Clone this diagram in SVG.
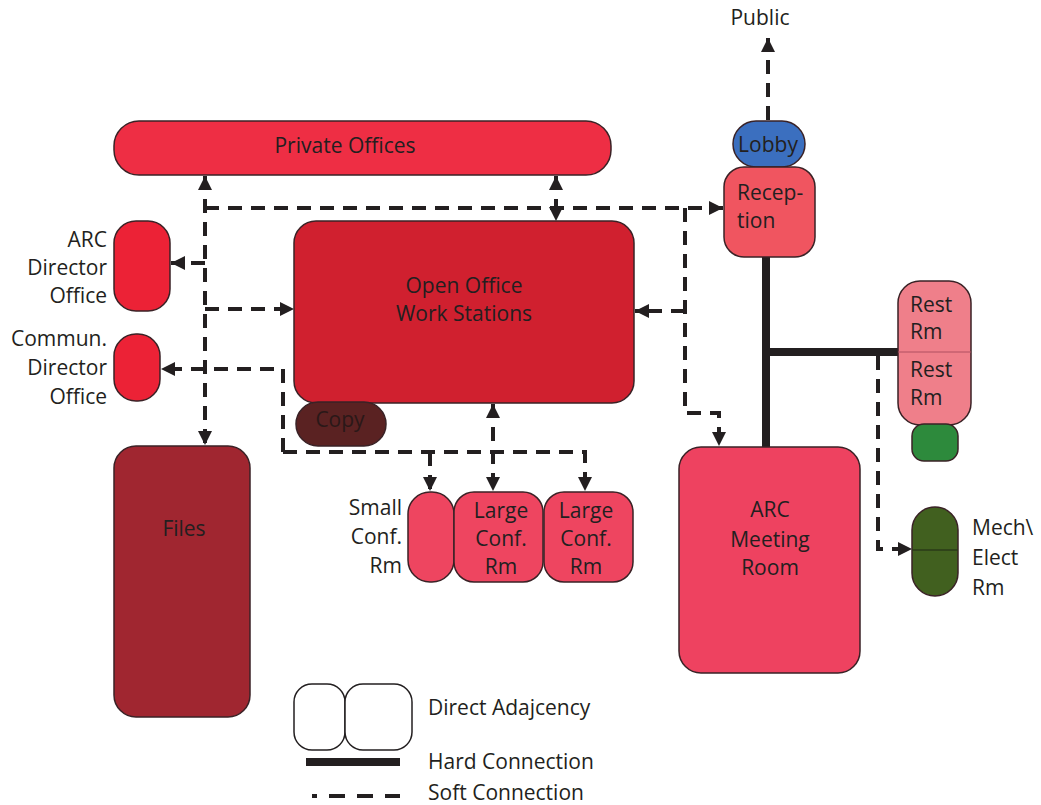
<svg xmlns="http://www.w3.org/2000/svg" width="1041" height="805" viewBox="0 0 1041 805">
<defs>
<style>
.n{stroke:#3a2226;stroke-width:1.5}
.t{font-family:"Open Sans","Liberation Sans",sans-serif;font-size:21px;fill:#231f20}
.c{text-anchor:middle}
.r{text-anchor:end}
.s{fill:none;stroke:#231f20;stroke-width:4;stroke-dasharray:14 9}
.h{fill:none;stroke:#231f20;stroke-width:8}
</style>
<marker id="a" viewBox="0 0 10 10" refX="10" refY="5" markerWidth="14" markerHeight="14" markerUnits="userSpaceOnUse" orient="auto-start-reverse">
<path d="M0,0 L10,5 L0,10 z" fill="#231f20"/>
</marker>
</defs>
<rect width="1041" height="805" fill="#fff"/>
<g id="connectors">
<path class="h" d="M766,257 V447"/>
<path class="h" d="M766,352 H899"/>
<path class="s" d="M768,120 V38" marker-end="url(#a)"/>
<path class="s" d="M205,176 V445" marker-start="url(#a)" marker-end="url(#a)"/>
<path class="s" d="M205,208 H723" marker-end="url(#a)"/>
<path class="s" d="M556,176 V221" marker-start="url(#a)" marker-end="url(#a)"/>
<path class="s" d="M205,263 H171" marker-end="url(#a)"/>
<path class="s" d="M205,309 H294" marker-end="url(#a)"/>
<path class="s" d="M283,452 V369 H161" marker-end="url(#a)"/>
<path class="s" d="M283,452 H585 V491" marker-end="url(#a)"/>
<path class="s" d="M430,452 V491" marker-end="url(#a)"/>
<path class="s" d="M493,404 V491" marker-start="url(#a)" marker-end="url(#a)"/>
<path class="s" d="M685,208 V413 H719 V446" marker-end="url(#a)"/>
<path class="s" d="M685,311 H635" marker-end="url(#a)"/>
<path class="s" d="M878,356 V549 H912" marker-end="url(#a)"/>
</g>
<g id="private-offices">
<rect class="n" x="114" y="121" width="497" height="54" rx="25" fill="#ee2e44"/>
<text class="t c" x="345" y="153">Private Offices</text>
</g>
<g id="open-office">
<rect class="n" x="294" y="221" width="340" height="182" rx="22" fill="#d0202f"/>
<text class="t c" x="464" y="293">Open Office</text>
<text class="t c" x="464" y="321">Work Stations</text>
</g>
<g id="arc-director">
<rect class="n" x="114" y="221" width="56" height="90" rx="22" fill="#ec2236"/>
<text class="t r" x="107" y="247">ARC</text>
<text class="t r" x="107" y="275">Director</text>
<text class="t r" x="107" y="303">Office</text>
</g>
<g id="commun-director">
<rect class="n" x="114" y="334" width="46" height="67" rx="22" fill="#ec2236"/>
<text class="t r" x="107" y="346">Commun.</text>
<text class="t r" x="107" y="375">Director</text>
<text class="t r" x="107" y="404">Office</text>
</g>
<g id="copy">
<rect class="n" x="296" y="402" width="90" height="44" rx="22" fill="#5a2222"/>
<text class="t c" x="340" y="427" style="fill:#2a1818">Copy</text>
</g>
<g id="files">
<rect class="n" x="114" y="446" width="136" height="271" rx="22" fill="#a02630"/>
<text class="t c" x="184" y="536">Files</text>
</g>
<g id="small-conf">
<rect class="n" x="408" y="492" width="46" height="90" rx="22" fill="#ee4560"/>
<text class="t r" x="402" y="515">Small</text>
<text class="t r" x="402" y="544">Conf.</text>
<text class="t r" x="402" y="573">Rm</text>
</g>
<g id="large-conf-1">
<rect class="n" x="454" y="492" width="89" height="90" rx="20" fill="#ee4560"/>
<text class="t c" x="501" y="518">Large</text>
<text class="t c" x="501" y="546">Conf.</text>
<text class="t c" x="501" y="574">Rm</text>
</g>
<g id="large-conf-2">
<rect class="n" x="544" y="492" width="89" height="90" rx="20" fill="#ee4560"/>
<text class="t c" x="586" y="518">Large</text>
<text class="t c" x="586" y="546">Conf.</text>
<text class="t c" x="586" y="574">Rm</text>
</g>
<g id="public">
<text class="t c" x="760" y="25">Public</text>
</g>
<g id="lobby">
<rect class="n" x="733" y="121" width="72" height="46" rx="23" fill="#3b6fbf"/>
<text class="t c" x="768" y="152">Lobby</text>
</g>
<g id="reception">
<rect class="n" x="724" y="167" width="91" height="90" rx="20" fill="#f05560"/>
<text class="t" x="737" y="200">Recep-</text>
<text class="t" x="737" y="228">tion</text>
</g>
<g id="rest-rooms">
<rect class="n" x="898" y="281" width="73" height="144" rx="22" fill="#ef7f8a"/>
<line x1="898" y1="352" x2="971" y2="352" stroke="#b05060" stroke-width="1"/>
<text class="t" x="910" y="312">Rest</text>
<text class="t" x="910" y="339">Rm</text>
<text class="t" x="910" y="377">Rest</text>
<text class="t" x="910" y="405">Rm</text>
</g>
<g id="green-room">
<rect class="n" x="912" y="424" width="46" height="37" rx="12" fill="#2d8a3c"/>
</g>
<g id="mech-elect">
<rect class="n" x="912" y="507" width="46" height="89" rx="23" fill="#41601f"/>
<line x1="912" y1="550" x2="958" y2="550" stroke="#2a3a18" stroke-width="1.5"/>
<text class="t" x="972" y="535">Mech\</text>
<text class="t" x="972" y="565">Elect</text>
<text class="t" x="972" y="595">Rm</text>
</g>
<g id="arc-meeting">
<rect class="n" x="679" y="447" width="181" height="226" rx="22" fill="#ee4260"/>
<text class="t c" x="770" y="517">ARC</text>
<text class="t c" x="770" y="547">Meeting</text>
<text class="t c" x="770" y="575">Room</text>
</g>
<g id="legend">
<rect x="294" y="684" width="51" height="66" rx="18" fill="#fff" stroke="#231f20" stroke-width="1.5"/>
<rect x="345" y="684" width="67" height="66" rx="18" fill="#fff" stroke="#231f20" stroke-width="1.5"/>
<text class="t" x="428" y="715">Direct Adajcency</text>
<line x1="306" y1="762" x2="400" y2="762" stroke="#231f20" stroke-width="8"/>
<text class="t" x="428" y="769">Hard Connection</text>
<line x1="312" y1="796" x2="400" y2="796" stroke="#231f20" stroke-width="4" stroke-dasharray="5 12 16 12 16 12 15"/>
<text class="t" x="428" y="800">Soft Connection</text>
</g>
</svg>
